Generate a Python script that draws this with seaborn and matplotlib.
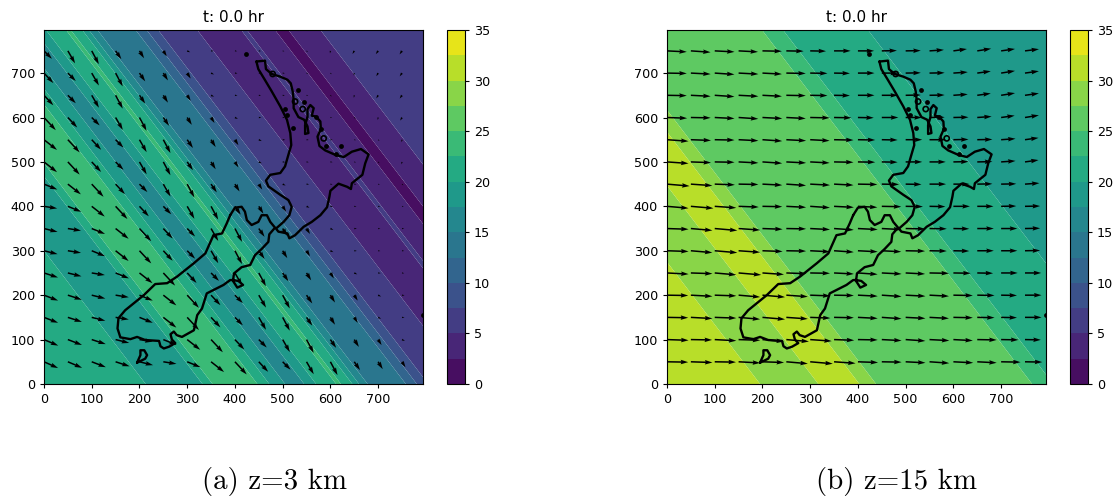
"""
Wind speed and wind vectors over New Zealand at two heights
"""

import numpy as np
import seaborn as sns
import matplotlib.pyplot as plt

# -------------------------
# Data
# -------------------------
# speed against position across the diagonal bands (s = x + 0.71 y)
band_slope = 0.71

s_a = [0, 100, 213, 270, 332, 353, 400, 447, 472, 505, 525, 545, 570, 612, 617,
       622, 646, 660, 678, 720, 758, 781, 805, 887, 970, 979, 985, 991, 1050,
       1064, 1078, 1145, 1400]
speed_a = [21.5, 21.5, 20, 18.8, 20, 22.5, 24, 22.5, 20, 17.5, 16, 17.5, 20, 22.5,
           23, 22.5, 20, 17.5, 15, 13.8, 12.5, 10, 7.5, 5, 4, 5, 5.2, 5, 2.5, 2,
           2.5, 5, 7]

s_b = [0, 195, 256, 317, 360, 403, 438, 600, 765, 809, 987, 1400]
speed_b = [31, 30, 29, 30, 31, 30, 27.5, 26, 25, 22.5, 20, 19]

# wind vectors, one pair per 50 wide step of s
arrow_edges = [50, 100, 150, 200, 250, 300, 350, 400, 450, 500, 550, 600, 650, 700,
               750, 800, 850, 900, 950, 1000, 1050, 1100, 1150, 1200, 1250, 1300, 1350]
u_a = [19.6, 19.8, 19.6, 19.5, 18.9, 18.3, 18.5, 18.1, 16.4, 13.0, 11.0, 10.0, 9.9, 8.0,
       6.4, 4.8, 4.1, 3.5, 3.0, 3.0, 2.4, 1.9, -0.6, -2.5, -3.2, -3.4, -3.4, -3.4]
v_a = [-8.7, -8.4, -7.5, -6.3, -4.7, -2.9, -7.5, -14.2, -17.6, -13.9, -11.0, -17.3, -18.5,
       -11.5, -10.2, -7.6, -1.9, -0.3, -0.4, -0.3, -0.6, -1.6, -3.4, -4.3, -4.5, -4.9, -4.9, -4.9]
u_b = [29.5, 30.0, 29.5, 30.0, 30.0, 29.9, 31.4, 29.9, 28.0, 27.5, 27.5, 27.4, 27.5, 27.0,
       27.0, 24.0, 22.0, 23.0, 22.5, 21.0, 21.0, 20.0, 18.8, 19.3, 19.3, 19.4, 19.4, 19.4]
v_b = [-0.5, -1.0, -0.5, -1.6, -1.0, -2.6, -2.7, -2.1, -1.0, -0.5, -1.4, -1.9, -1.4, -1.4,
       -0.5, -0.4, -0.4, 0.0, 0.0, 0.4, 0.4, 1.4, 2.6, 3.1, 2.7, 2.4, 2.4, 2.4]

arrow_x = [0, 50, 100, 150, 200, 250, 300, 350, 400, 450, 500, 550, 600, 650, 700, 750]
arrow_y = [50, 100, 150, 200, 250, 300, 350, 400, 450, 500, 550, 600, 650, 700, 750]

# coastline
north_x = [445, 463, 465, 477, 495, 510, 517, 521, 523, 523, 533, 545, 552, 554, 547, 547,
           552, 552, 558, 565, 561, 570, 579, 580, 573, 577, 589, 610, 628, 645, 664, 680,
           673, 667, 645, 643, 635, 617, 600, 598, 593, 579, 561, 544, 526, 514, 510, 491,
           486, 502, 514, 519, 512, 495, 470, 465, 474, 495, 505, 512, 518, 516, 509, 495,
           477, 462, 449, 445]
north_y = [726, 728, 709, 698, 692, 685, 677, 659, 640, 621, 601, 595, 580, 565, 563, 583,
           601, 619, 628, 621, 604, 602, 591, 574, 557, 536, 526, 516, 511, 523, 529, 517,
           497, 471, 452, 439, 444, 451, 435, 422, 398, 380, 365, 354, 335, 328, 339, 343,
           350, 365, 380, 399, 414, 426, 445, 458, 471, 475, 490, 516, 538, 565, 595, 625,
           659, 686, 709, 726]
south_x = [390, 400, 414, 421, 425, 435, 449, 456, 467, 474, 484, 472, 470, 456, 442, 432,
           414, 398, 396, 405, 417, 407, 396, 390, 376, 341, 331, 321, 314, 289, 278, 272,
           265, 268, 275, 262, 251, 244, 241, 212, 195, 181, 160, 154, 156, 170, 209, 233,
           258, 279, 314, 338, 355, 373, 383, 390]
south_y = [380, 397, 399, 388, 369, 358, 365, 380, 380, 365, 352, 337, 320, 304, 290, 268,
           263, 249, 232, 217, 223, 232, 234, 234, 223, 204, 170, 155, 121, 106, 110, 118,
           112, 100, 92, 84, 80, 85, 97, 99, 106, 101, 105, 125, 148, 166, 200, 225,
           227, 242, 272, 294, 335, 339, 362, 380]
stewart_x = [195, 212, 216, 210, 202, 202, 195]
stewart_y = [48, 57, 65, 76, 76, 65, 48]

island_x = [423, 533, 509, 505, 521, 591, 623, 570, 545, 580, 612, 794]
island_y = [743, 661, 606, 619, 576, 535, 535, 602, 634, 574, 518, 155]
ring_x = [526, 542, 586, 479]
ring_y = [636, 619, 553, 698]

levels = [0, 2.5, 5, 7.5, 10, 12.5, 15, 17.5, 20, 22.5, 25, 27.5, 30, 32.5, 35]
bar_ticks = [0, 5, 10, 15, 20, 25, 30, 35]
axis_ticks = [0, 100, 200, 300, 400, 500, 600, 700]

# -------------------------
# Style
# -------------------------
sns.set_theme(style="ticks", rc={
    "axes.edgecolor": "black",
    "axes.linewidth": 0.8,
    "xtick.color": "black",
    "ytick.color": "black",
    "text.color": "black",
    "xtick.labelsize": 9.2,
    "ytick.labelsize": 9.2,
    "xtick.major.size": 3,
    "ytick.major.size": 3,
    "xtick.major.width": 0.8,
    "ytick.major.width": 0.8,
})
plt.rcParams["font.family"] = "DejaVu Sans"

W, H = 1119, 501
fig = plt.figure(figsize=(W / 100, H / 100), dpi=100)


def box(left, top, right, bottom):
    return [left / W, 1 - bottom / H, (right - left) / W, (bottom - top) / H]


def draw_panel(left, s, speed, u, v, caption):
    ax = fig.add_axes(box(left, 30, left + 379, 384))
    cax = fig.add_axes(box(left + 403, 30, left + 421, 384))

    # each s value is one straight line across the map
    s = np.array(s, dtype=float)
    X = np.column_stack([s, s - band_slope * 800])
    Y = np.column_stack([np.zeros_like(s), np.full_like(s, 800)])
    Z = np.column_stack([speed, speed])
    cf = ax.contourf(X, Y, Z, levels=levels, cmap=sns.color_palette("viridis", as_cmap=True),
                     antialiased=True)

    gx, gy = np.meshgrid(arrow_x, arrow_y)
    idx = np.digitize(gx + band_slope * gy, arrow_edges)
    ax.quiver(gx, gy, np.array(u)[idx], np.array(v)[idx], angles="uv",
              scale_units="inches", scale=139, color="black", width=0.004, zorder=3)

    for cx, cy in [(north_x, north_y), (south_x, south_y), (stewart_x, stewart_y)]:
        sns.lineplot(x=cx, y=cy, sort=False, estimator=None, color="black", lw=1.7, ax=ax, zorder=4)
    sns.scatterplot(x=island_x, y=island_y, s=12, color="black", linewidth=0, ax=ax, zorder=4)
    sns.scatterplot(x=ring_x, y=ring_y, s=14, facecolor="none", edgecolor="black", linewidth=1.2,
                    ax=ax, zorder=4)

    ax.set_xlim(0, 794)
    ax.set_ylim(0, 797)
    ax.set_xticks(axis_ticks)
    ax.set_yticks(axis_ticks)
    ax.set_title("t: 0.0 hr", fontsize=11, pad=6)

    cb = fig.colorbar(cf, cax=cax)
    cb.set_ticks(bar_ticks)
    cb.set_ticklabels([str(t) for t in bar_ticks])
    cb.ax.tick_params(labelsize=9.2)

    fig.text((left + 230) / W, 1 - 481 / H, caption, ha="center", va="center",
             fontsize=20.8, family="cmr10")


draw_panel(44, s_a, speed_a, u_a, v_a, "(a) z=3 km")
draw_panel(667, s_b, speed_b, u_b, v_b, "(b) z=15 km")

fig.savefig("out.png", dpi=100)
